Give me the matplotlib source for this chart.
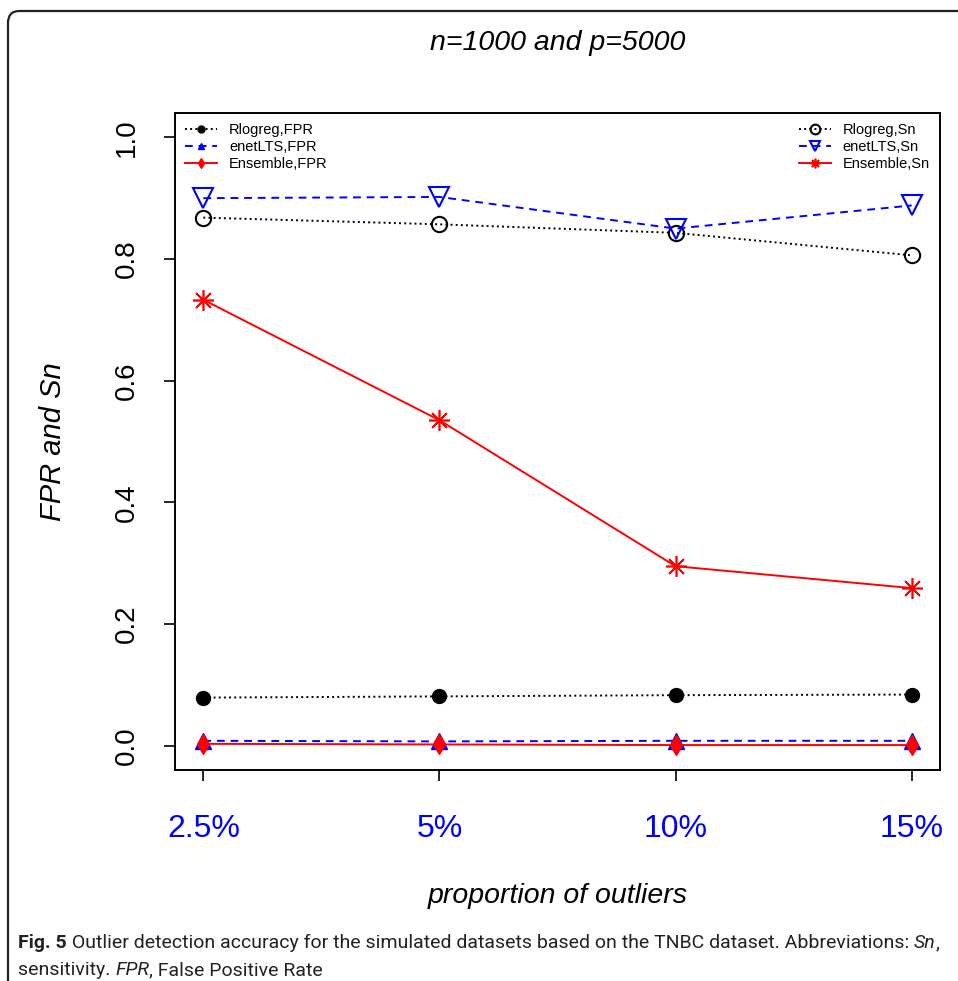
import matplotlib
matplotlib.use("Agg")
import matplotlib.pyplot as plt
from matplotlib.patches import FancyBboxPatch
import numpy as np

### data
outlier_labels = ["2.5%", "5%", "10%", "15%"]

rlogreg_fpr = [0.079, 0.081, 0.083, 0.084]
enetlts_fpr = [0.008, 0.007, 0.008, 0.008]
ensemble_fpr = [0.003, 0.002, 0.001, 0.001]

rlogreg_sn = [0.868, 0.857, 0.843, 0.806]
enetlts_sn = [0.900, 0.902, 0.850, 0.888]
ensemble_sn = [0.733, 0.535, 0.295, 0.259]

y_ticks = [0.0, 0.2, 0.4, 0.6, 0.8, 1.0]

# %%
plt.rcParams['font.family'] = ['Liberation Sans', 'DejaVu Sans']

W, H = 958, 981
fig = plt.figure(figsize=(W/100, H/100), dpi=100)

### rounded frame around the whole panel (runs off the right/bottom edge)
frame = FancyBboxPatch((8/W, -0.1), 1.2, (H - 11)/H + 0.1,
                       boxstyle="round,pad=0,rounding_size=0.012",
                       transform=fig.transFigure, fill=False,
                       edgecolor="#222222", linewidth=1.6)
fig.patches.append(frame)

ax = fig.add_axes([175/W, 1 - 770/H, (940 - 175)/W, (770 - 113)/H])
x = np.arange(1, len(outlier_labels) + 1)

### FPR series
ax.plot(x, rlogreg_fpr, ls=":", color="black", lw=1.4, marker="o", ms=10,
        mfc="black", mec="black", label="Rlogreg,FPR")
ax.plot(x, enetlts_fpr, ls=(0, (4, 3)), color="blue", lw=1.4, marker="^", ms=11,
        mfc="blue", mec="blue", label="enetLTS,FPR")
ax.plot(x, ensemble_fpr, ls="-", color="red", lw=1.4, marker="d", ms=10,
        mfc="red", mec="red", label="Ensemble,FPR")

### Sn series
ax.plot(x, rlogreg_sn, ls=":", color="black", lw=1.4, marker="o", ms=11,
        mfc="none", mec="black", mew=1.5, label="Rlogreg,Sn")
ax.plot(x, enetlts_sn, ls=(0, (4, 3)), color="blue", lw=1.4, marker="v", ms=14,
        mfc="none", mec="blue", mew=1.5, label="enetLTS,Sn")
ax.plot(x, ensemble_sn, ls="-", color="red", lw=1.4, marker=(8, 2, 0), ms=15,
        mec="red", mew=1.2, label="Ensemble,Sn")

ax.set_xlim(0.88, 4.12)
ax.set_ylim(-0.04, 1.04)

ax.set_xticks(x)
ax.set_xticklabels(outlier_labels, color="blue", fontsize=23)
ax.set_yticks(y_ticks)
ax.set_yticklabels([f"{v:.1f}" for v in y_ticks], rotation=90, va="center", fontsize=20)

ax.tick_params(axis="both", direction="out", length=8, width=1.2, color="black")
ax.tick_params(axis="x", pad=24)
ax.tick_params(axis="y", pad=17)
for sp in ax.spines.values():
    sp.set_linewidth(1.4)

ax.set_xlabel("proportion of outliers", fontsize=20.5, style="italic", labelpad=28)
ax.set_ylabel("FPR and Sn", fontsize=21, style="italic", labelpad=34)
fig.text(558/W, 1 - 43/H, "n=1000 and p=5000", fontsize=20.5, style="italic",
         ha="center", va="center")

### two legends: FPR left, Sn right
handles, labels = ax.get_legend_handles_labels()
leg_kw = dict(frameon=False, fontsize=10.5, numpoints=1, handlelength=2.2,
              handletextpad=0.8, labelspacing=0.2, borderaxespad=0.3)
leg1 = ax.legend(handles[:3], labels[:3], loc="upper left", **leg_kw)
for lh in leg1.legend_handles:
    lh.set_markersize(5)
ax.add_artist(leg1)
leg2 = ax.legend(handles[3:], labels[3:], loc="upper right", **leg_kw)
for lh in leg2.legend_handles:
    lh.set_markersize(7)

### caption with mixed bold / italic runs
cap_size = 14
cap_family = ['Liberation Sans Narrow', 'Roboto', 'DejaVu Sans']
renderer = fig.canvas.get_renderer()

def caption_line(parts, x0, y0):
    xpos = x0
    for txt, kw in parts:
        t = fig.text(xpos/W, 1 - y0/H, txt, fontsize=cap_size, family=cap_family,
                     va="baseline", ha="left", color="#222222", **kw)
        bb = t.get_window_extent(renderer=renderer)
        xpos += bb.width

caption_line([("Fig. 5", dict(weight="bold")),
              (" Outlier detection accuracy for the simulated datasets based on the TNBC dataset. Abbreviations: ", {}),
              ("Sn", dict(style="italic")),
              (",", {})], 18, 948)
caption_line([("sensitivity. ", {}),
              ("FPR", dict(style="italic")),
              (", False Positive Rate", {})], 18, 975)

fig.savefig("out.png", dpi=100)
